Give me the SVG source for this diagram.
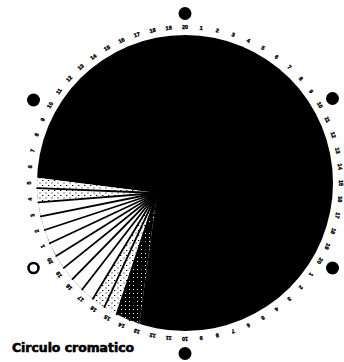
<svg xmlns="http://www.w3.org/2000/svg" width="344" height="362" viewBox="0 0 344 362">
<style>
.num{font-family:"Liberation Sans",Arial,sans-serif;font-size:5.5px;font-weight:bold;fill:#000;stroke:#000;stroke-width:0.35;text-anchor:middle}
.ray{stroke:#000;stroke-width:1.8;fill:none;stroke-linecap:round}
.title{font-family:"DejaVu Sans","Liberation Sans",sans-serif;font-size:12px;font-weight:bold;fill:#000;stroke:#000;stroke-width:0.6}
</style>
<defs>
<pattern id="stip" width="6" height="5" patternUnits="userSpaceOnUse">
<rect width="6" height="5" fill="#fff"/>
<rect x="0" y="0" width="1.3" height="1" fill="#000"/>
<rect x="3.5" y="2.5" width="1" height="1" fill="#000"/>
</pattern>
<pattern id="stipDark" width="4" height="4" patternUnits="userSpaceOnUse">
<rect width="4" height="4" fill="#000"/>
<rect x="1" y="1" width="1" height="1" fill="#fff"/>
</pattern>
</defs>
<rect width="344" height="362" fill="#fff"/>

<g id="wheel">
<circle cx="185" cy="183" r="148" fill="#000"/>
<path d="M157,193 L37.09,177.83 A148,148 0 0 0 139.27,323.76 Z" fill="#fff"/>
<path d="M157,193 L37.09,177.83 A148,148 0 0 0 38.27,202.32 Z" fill="url(#stip)"/>
<path d="M157,193 L92.87,298.83 A148,148 0 0 0 116.66,314.28 Z" fill="url(#stip)"/>
<path d="M157,193 L116.66,314.28 A148,148 0 0 0 139.27,323.76 Z" fill="url(#stipDark)"/>
</g>

<g id="connectors">
<line class="ray" x1="157" y1="193" x2="37.1" y2="188.2"/>
<line class="ray" x1="157" y1="193" x2="38.3" y2="202.3"/>
<line class="ray" x1="157" y1="193" x2="40.8" y2="216.3"/>
<line class="ray" x1="157" y1="193" x2="44.7" y2="230.0"/>
<line class="ray" x1="157" y1="193" x2="49.8" y2="243.2"/>
<line class="ray" x1="157" y1="193" x2="56.2" y2="255.9"/>
<line class="ray" x1="157" y1="193" x2="63.8" y2="267.9"/>
<line class="ray" x1="157" y1="193" x2="72.5" y2="279.1"/>
<line class="ray" x1="157" y1="193" x2="82.2" y2="289.5"/>
<line class="ray" x1="157" y1="193" x2="92.9" y2="298.8"/>
<line class="ray" x1="157" y1="193" x2="104.4" y2="307.1"/>
<line class="ray" x1="157" y1="193" x2="116.7" y2="314.3"/>
<line class="ray" x1="157" y1="193" x2="129.6" y2="320.2"/>
</g>

<g id="dots">
<circle cx="185" cy="13.5" r="6.5" fill="#000"/>
<circle cx="332.5" cy="98.5" r="6.5" fill="#000"/>
<circle cx="332.5" cy="268" r="6.5" fill="#000"/>
<circle cx="185" cy="353.5" r="6.5" fill="#000"/>
<circle cx="33.5" cy="268" r="5" fill="none" stroke="#000" stroke-width="2.6"/>
<circle cx="33.5" cy="100" r="6.5" fill="#000"/>
</g>

<g id="scale">
<text class="num" x="185" y="29" transform="rotate(0 185 183)">20</text>
<text class="num" x="185" y="29" transform="rotate(6 185 183)">1</text>
<text class="num" x="185" y="29" transform="rotate(12 185 183)">2</text>
<text class="num" x="185" y="29" transform="rotate(18 185 183)">3</text>
<text class="num" x="185" y="29" transform="rotate(24 185 183)">4</text>
<text class="num" x="185" y="29" transform="rotate(30 185 183)">5</text>
<text class="num" x="185" y="29" transform="rotate(36 185 183)">6</text>
<text class="num" x="185" y="29" transform="rotate(42 185 183)">7</text>
<text class="num" x="185" y="29" transform="rotate(48 185 183)">8</text>
<text class="num" x="185" y="29" transform="rotate(54 185 183)">9</text>
<text class="num" x="185" y="29" transform="rotate(60 185 183)">10</text>
<text class="num" x="185" y="29" transform="rotate(66 185 183)">11</text>
<text class="num" x="185" y="29" transform="rotate(72 185 183)">12</text>
<text class="num" x="185" y="29" transform="rotate(78 185 183)">13</text>
<text class="num" x="185" y="29" transform="rotate(84 185 183)">14</text>
<text class="num" x="185" y="29" transform="rotate(90 185 183)">15</text>
<text class="num" x="185" y="29" transform="rotate(96 185 183)">16</text>
<text class="num" x="185" y="29" transform="rotate(102 185 183)">17</text>
<text class="num" x="185" y="29" transform="rotate(108 185 183)">18</text>
<text class="num" x="185" y="29" transform="rotate(114 185 183)">19</text>
<text class="num" x="185" y="29" transform="rotate(120 185 183)">20</text>
<text class="num" x="185" y="29" transform="rotate(126 185 183)">1</text>
<text class="num" x="185" y="29" transform="rotate(132 185 183)">2</text>
<text class="num" x="185" y="29" transform="rotate(138 185 183)">3</text>
<text class="num" x="185" y="29" transform="rotate(144 185 183)">4</text>
<text class="num" x="185" y="29" transform="rotate(150 185 183)">5</text>
<text class="num" x="185" y="29" transform="rotate(156 185 183)">6</text>
<text class="num" x="185" y="29" transform="rotate(162 185 183)">7</text>
<text class="num" x="185" y="29" transform="rotate(168 185 183)">8</text>
<text class="num" x="185" y="29" transform="rotate(174 185 183)">9</text>
<text class="num" x="185" y="29" transform="rotate(180 185 183)">10</text>
<text class="num" x="185" y="29" transform="rotate(186 185 183)">11</text>
<text class="num" x="185" y="29" transform="rotate(192 185 183)">12</text>
<text class="num" x="185" y="29" transform="rotate(198 185 183)">13</text>
<text class="num" x="185" y="29" transform="rotate(204 185 183)">14</text>
<text class="num" x="185" y="29" transform="rotate(210 185 183)">15</text>
<text class="num" x="185" y="29" transform="rotate(216 185 183)">16</text>
<text class="num" x="185" y="29" transform="rotate(222 185 183)">17</text>
<text class="num" x="185" y="29" transform="rotate(228 185 183)">18</text>
<text class="num" x="185" y="29" transform="rotate(234 185 183)">19</text>
<text class="num" x="185" y="29" transform="rotate(240 185 183)">20</text>
<text class="num" x="185" y="29" transform="rotate(246 185 183)">1</text>
<text class="num" x="185" y="29" transform="rotate(252 185 183)">2</text>
<text class="num" x="185" y="29" transform="rotate(258 185 183)">3</text>
<text class="num" x="185" y="29" transform="rotate(264 185 183)">4</text>
<text class="num" x="185" y="29" transform="rotate(270 185 183)">5</text>
<text class="num" x="185" y="29" transform="rotate(276 185 183)">6</text>
<text class="num" x="185" y="29" transform="rotate(282 185 183)">7</text>
<text class="num" x="185" y="29" transform="rotate(288 185 183)">8</text>
<text class="num" x="185" y="29" transform="rotate(294 185 183)">9</text>
<text class="num" x="185" y="29" transform="rotate(300 185 183)">10</text>
<text class="num" x="185" y="29" transform="rotate(306 185 183)">11</text>
<text class="num" x="185" y="29" transform="rotate(312 185 183)">12</text>
<text class="num" x="185" y="29" transform="rotate(318 185 183)">13</text>
<text class="num" x="185" y="29" transform="rotate(324 185 183)">14</text>
<text class="num" x="185" y="29" transform="rotate(330 185 183)">15</text>
<text class="num" x="185" y="29" transform="rotate(336 185 183)">16</text>
<text class="num" x="185" y="29" transform="rotate(342 185 183)">17</text>
<text class="num" x="185" y="29" transform="rotate(348 185 183)">18</text>
<text class="num" x="185" y="29" transform="rotate(354 185 183)">19</text>
</g>

<g id="title">
<text class="title" x="12" y="352" textLength="122" lengthAdjust="spacingAndGlyphs">Circulo cromatico</text>
</g>
</svg>
